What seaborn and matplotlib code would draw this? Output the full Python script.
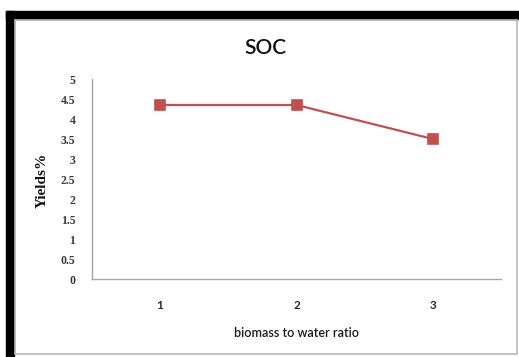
import matplotlib
matplotlib.use("Agg")
import matplotlib.pyplot as plt
from matplotlib.patches import Rectangle
from matplotlib.lines import Line2D
import seaborn as sns
import pandas as pd

# Biomass-to-water ratio vs. SOC yield
ratios = ["1", "2", "3"]
yields = [4.35, 4.35, 3.5]
y_ticks = [0, 0.5, 1, 1.5, 2, 2.5, 3, 3.5, 4, 4.5, 5]
y_tick_labels = ["0", "0.5", "1", "1.5", "2", "2.5", "3", "3.5", "4", "4.5", "5"]

df = pd.DataFrame({"ratio": ratios, "yield": yields})

sns.set_theme(style="white")
W, H = 519, 357
fig = plt.figure(figsize=(W / 100, H / 100), dpi=100)

def fx(px):
    return px / W

def fy(py):
    return 1 - py / H

# Frame around the chart: thick black band on top and left, thin grey inner border
fig.patches.append(Rectangle((fx(6), fy(19)), fx(519) - fx(6), fy(11) - fy(19),
                             transform=fig.transFigure, color="black", zorder=0))
fig.patches.append(Rectangle((fx(6), fy(357)), fx(14) - fx(6), fy(11) - fy(357),
                             transform=fig.transFigure, color="black", zorder=0))
for xs, ys in [([15, 517], [20, 20]), ([15, 517], [353.5, 353.5]),
               ([15, 15], [20, 353.5]), ([517, 517], [20, 353.5])]:
    fig.lines.append(Line2D([fx(x) for x in xs], [fy(y) for y in ys],
                            transform=fig.transFigure, color="#b8b8b8", lw=1.2))

ax = fig.add_axes([fx(92), fy(279), fx(501) - fx(92), fy(79) - fy(279)])
sns.pointplot(data=df, x="ratio", y="yield", ax=ax, color="#c0504d",
              markers="s", markersize=6.5, linewidth=1.6, errorbar=None)

ax.set_xlim(-0.5, 2.5)
ax.set_ylim(0, 5)
ax.set_yticks(y_ticks)
ax.set_yticklabels(y_tick_labels, family="Liberation Serif", fontsize=8.5,
                   fontweight="bold", color="#3a3a3a")
ax.set_xticks(range(len(ratios)))
ax.set_xticklabels(ratios, family="Lato", fontsize=8.5, fontweight="bold", color="#2a2a2a")
ax.tick_params(axis="y", length=0, pad=12)
ax.tick_params(axis="x", length=0, pad=15)

for side in ["top", "right"]:
    ax.spines[side].set_visible(False)
for side in ["left", "bottom"]:
    ax.spines[side].set_color("#a6a6a6")
    ax.spines[side].set_linewidth(1.0)

ax.set_xlabel("")
ax.set_ylabel("")
fig.text(fx(297), fy(333), "biomass to water ratio", family="Lato", fontsize=9,
         fontweight="semibold", ha="center", va="center", color="#1a1a1a")
fig.text(fx(42), fy(180), "Yields%", family="Liberation Serif", fontsize=11,
         fontweight="bold", rotation=90, ha="center", va="center", color="#111111")
fig.text(fx(265), fy(48), "SOC", family="Lato", fontsize=15, fontweight="semibold",
         ha="center", va="center", color="#111111")

fig.savefig("out.png", dpi=100, facecolor="white")
